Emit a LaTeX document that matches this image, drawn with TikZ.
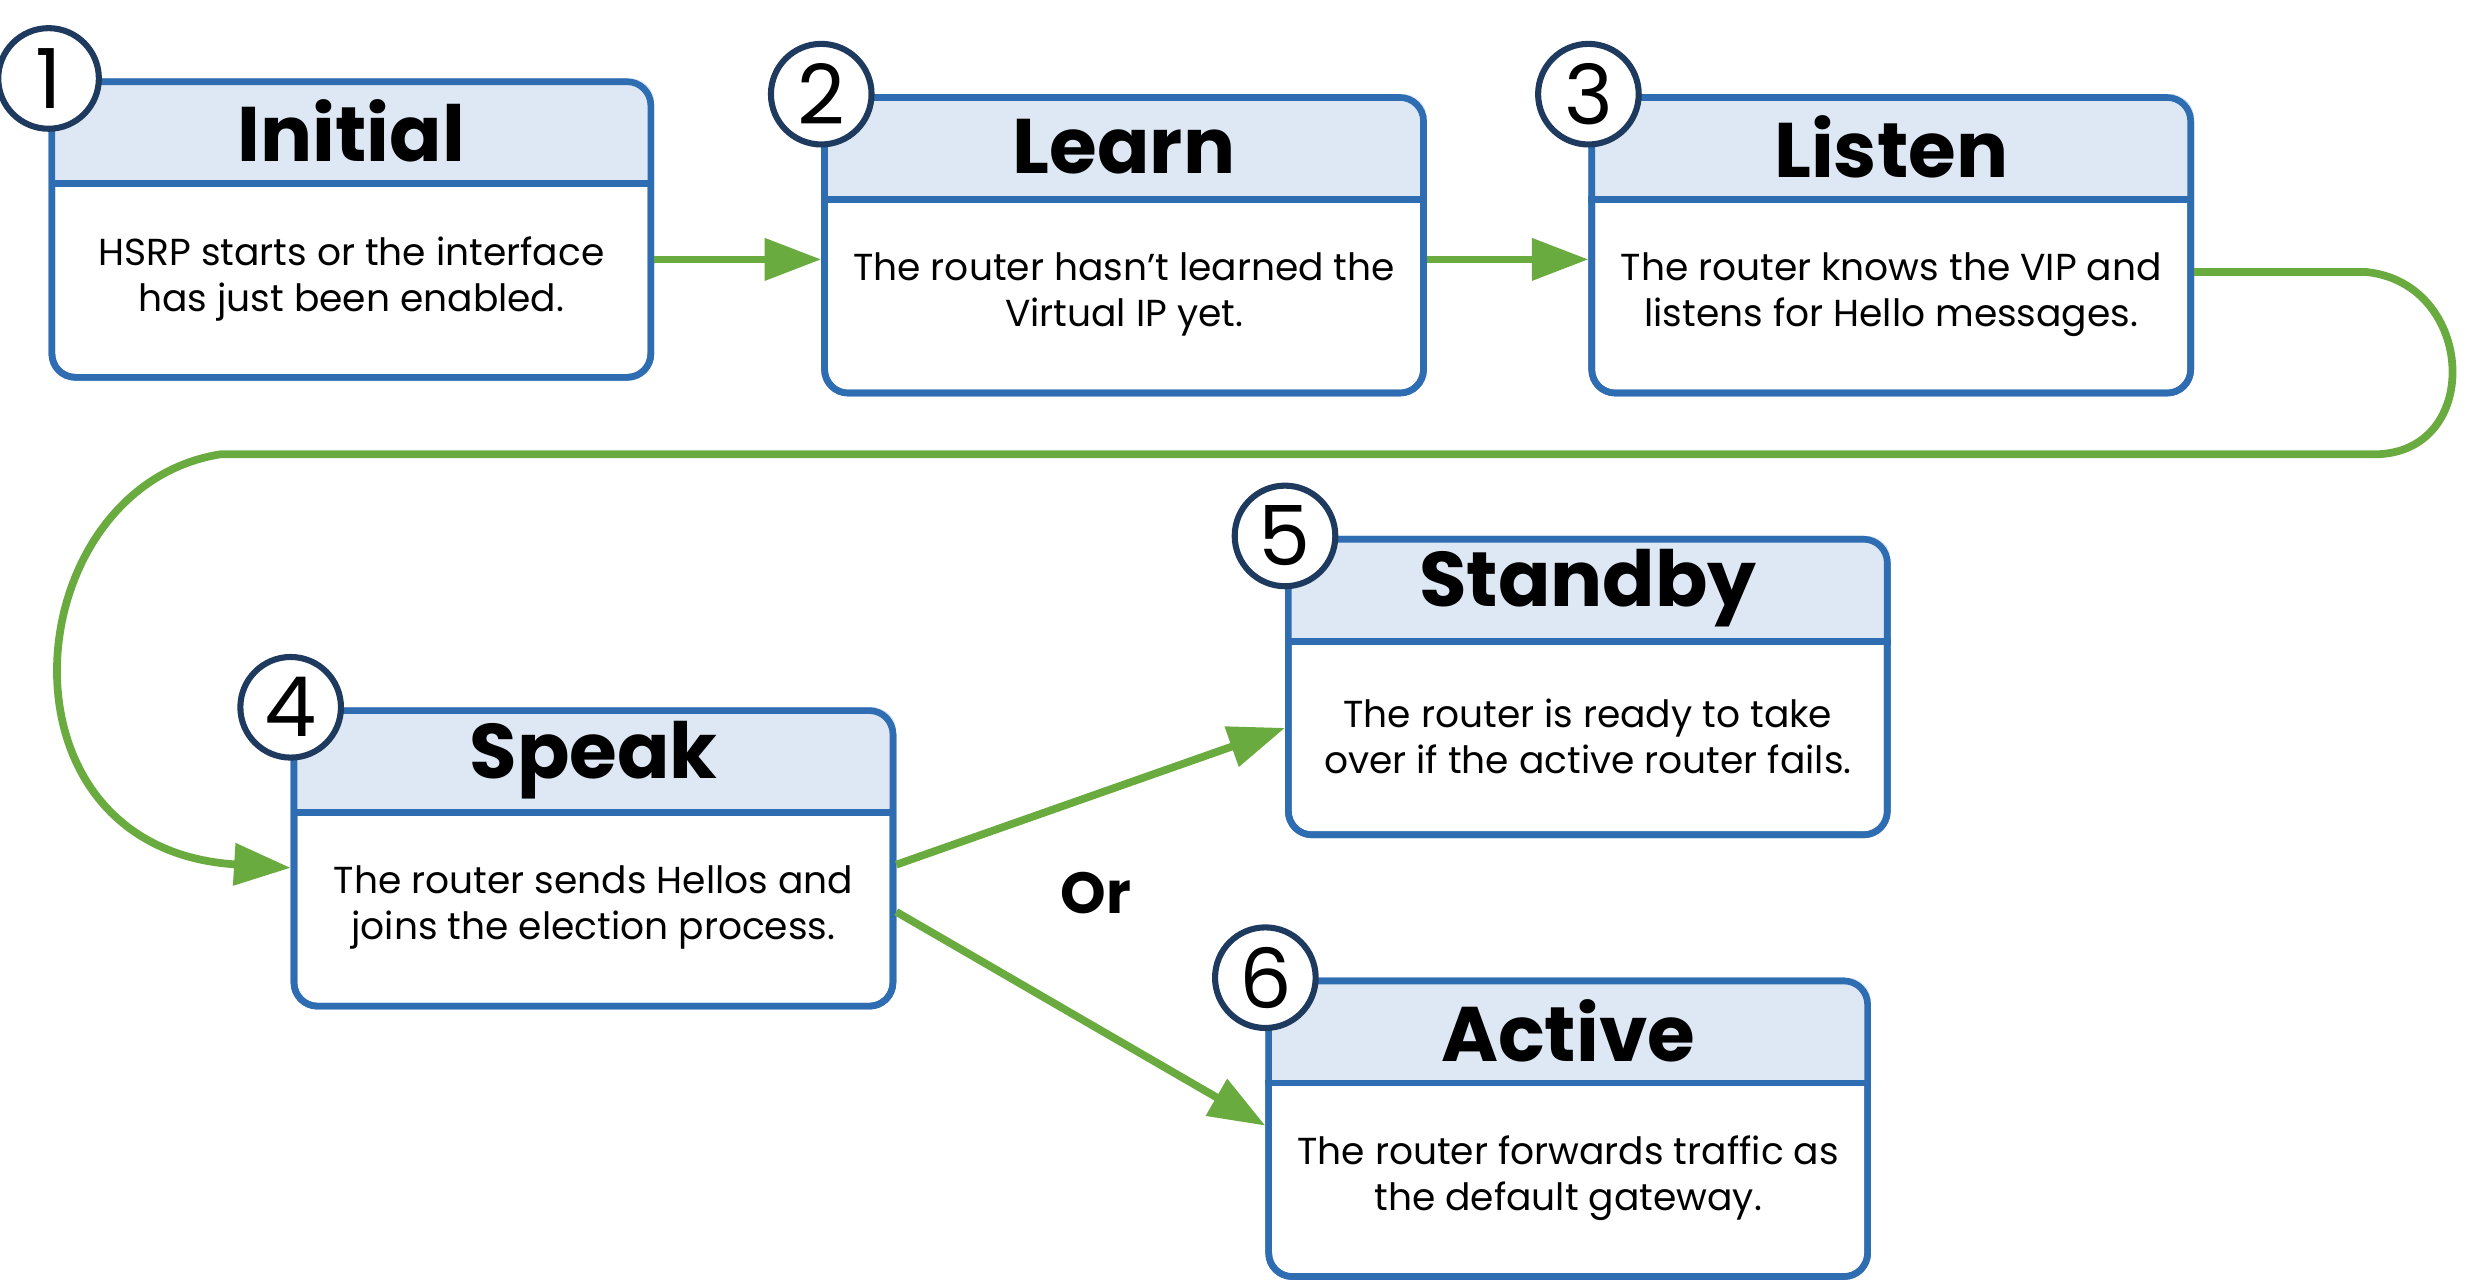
\documentclass[tikz,border=0pt]{standalone}
\usepackage{fontspec}
\setmainfont{Poppins}
\usetikzlibrary{calc,arrows.meta}
\definecolor{boxblue}{HTML}{2F6DB3}
\definecolor{headblue}{HTML}{DDE8F4}
\definecolor{navy}{HTML}{1F3A5F}
\definecolor{flowgreen}{HTML}{6AAB40}
\tikzset{
  box/.style={draw=boxblue, line width=1.2pt, rounded corners=0.15cm,
    minimum width=3.81cm, minimum height=1.88cm, inner sep=0pt},
  numcircle/.style={circle, draw=navy, line width=1.1pt, fill=white,
    minimum size=0.64cm, inner sep=0pt, font=\fontsize{15}{15}\selectfont},
  title/.style={font=\fontsize{14}{14}\selectfont\bfseries},
  body/.style={align=center, font=\fontsize{6.8}{8.3}\selectfont},
  flow/.style={draw=flowgreen, line width=1.4pt,
    -{Triangle[length=0.36cm,width=0.26cm]}}
}
% name, x, y, number, title, text
\newcommand\stage[6]{%
  \node[box] (#1) at (#2,#3) {};
  \begin{scope}
    \clip[rounded corners=0.15cm] (#1.south west) rectangle (#1.north east);
    \fill[headblue] (#1.north west) rectangle ($(#1.north east)+(0,-0.67)$);
  \end{scope}
  \draw[boxblue, line width=1.2pt] ($(#1.north west)+(0,-0.67)$) -- ($(#1.north east)+(0,-0.67)$);
  \node[box] at (#1) {};
  \node[title] (#1-title) at ($(#1.north)+(0,-0.335)$) {#5};
  \node[body] (#1-text) at ($(#1.north)+(0,-1.275)$) {#6};
  \node[numcircle] (#1-num) at (#1.north west) {#4};
}
\begin{document}
\begin{tikzpicture}
  \useasboundingbox (0,0) rectangle (15.68,-8.16);

  % stages
  \stage{initial}{2.235}{-1.46}{1}{Initial}{HSRP starts or the interface\\has just been enabled.}
  \stage{learn}{7.15}{-1.56}{2}{Learn}{The router hasn’t learned the\\Virtual IP yet.}
  \stage{listen}{12.03}{-1.56}{3}{Listen}{The router knows the VIP and\\listens for Hello messages.}
  \stage{speak}{3.775}{-5.46}{4}{Speak}{The router sends Hellos and\\joins the election process.}
  \stage{standby}{10.10}{-4.37}{5}{Standby}{The router is ready to take\\over if the active router fails.}
  \stage{active}{9.975}{-7.18}{6}{Active}{The router forwards traffic as\\the default gateway.}

  % connectors
  \draw[flow] (initial.east |- 0,-1.65) -- (learn.west |- 0,-1.65);
  \draw[flow] (learn.east |- 0,-1.65) -- (listen.west |- 0,-1.65);
  \draw[flow] (listen.east |- 0,-1.73) -- (15.05,-1.73)
    .. controls (15.75,-1.8) and (15.8,-2.89) .. (15.1,-2.89)
    -- (1.4,-2.89)
    .. controls (0.1,-3.1) and (-0.1,-5.4) .. (speak.west |- 0,-5.52);
  \draw[flow] (speak.east |- 0,-5.50) -- (standby.west |- 0,-4.63);
  \draw[flow] (speak.east |- 0,-5.80) -- (active.west |- 0,-7.16);

  \node[font=\fontsize{10.5}{10.5}\selectfont\bfseries] (or) at (6.97,-5.68) {Or};
\end{tikzpicture}
\end{document}
